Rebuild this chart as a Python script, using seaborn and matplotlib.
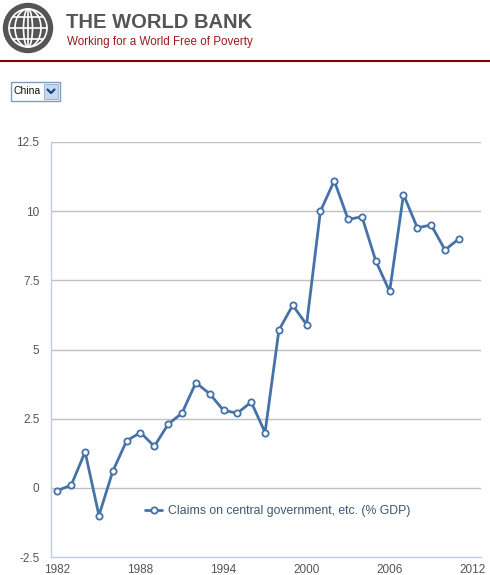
import numpy as np
import pandas as pd
import matplotlib
matplotlib.use("Agg")
import matplotlib.pyplot as plt
import matplotlib.patches as mpatches
import seaborn as sns

sns.set_style("white")
plt.rcParams['font.family'] = ['Liberation Sans', 'DejaVu Sans']

# data (China)
years = list(range(1982, 2012))
claims = [-0.1, 0.1, 1.3, -1.0, 0.6, 1.7, 2.0, 1.5, 2.3, 2.7,
          3.8, 3.4, 2.8, 2.7, 3.1, 2.0, 5.7, 6.6, 5.9, 10.0,
          11.1, 9.7, 9.8, 8.2, 7.1, 10.6, 9.4, 9.5, 8.6, 9.0]
series_name = "Claims on central government, etc. (% GDP)"
y_ticks = [-2.5, 0, 2.5, 5, 7.5, 10, 12.5]
y_labels = ["-2.5", "0", "2.5", "5", "7.5", "10", "12.5"]
x_ticks = [1982, 1988, 1994, 2000, 2006, 2012]

df = pd.DataFrame({"year": years, "value": claims, "series": series_name})

W, H = 490, 575
fig = plt.figure(figsize=(W / 100, H / 100), dpi=100)

# header: logo
lax = fig.add_axes([0, 1 - 56 / H, 56 / W, 56 / H])
lax.set_xlim(0, 56)
lax.set_ylim(56, 0)
lax.set_aspect("equal")
lax.axis("off")
cx, cy = 28, 28
lax.add_patch(mpatches.Circle((cx, cy), 24.5, color="#555555"))
lax.add_patch(mpatches.Circle((cx, cy), 19, fill=False, ec="white", lw=1.2))
for w in [9, 26]:
    lax.add_patch(mpatches.Ellipse((cx, cy), w, 38, fill=False, ec="white", lw=1.2))
lax.plot([cx, cx], [cy - 19, cy + 19], color="white", lw=1.2)
for dy in [-11, 0, 11]:
    half = np.sqrt(19 ** 2 - dy ** 2)
    lax.plot([cx - half, cx + half], [cy + dy, cy + dy], color="white", lw=1.2)

fig.text(66 / W, 1 - 23 / H, "THE WORLD BANK", fontsize=14.5, fontweight="bold",
         color="#555555", va="center", ha="left")
fig.text(67 / W, 1 - 42 / H, "Working for a World Free of Poverty", fontsize=8.4,
         color="#9b1b1b", va="center", ha="left")
fig.add_artist(plt.Line2D([0, 1], [1 - 60.5 / H, 1 - 60.5 / H], color="#8b0000", lw=1.5))

# dropdown
fig.add_artist(mpatches.Rectangle((11 / W, 1 - 101 / H), 49 / W, 19 / H, fill=False,
                                  ec="#7f9db9", lw=1))
fig.add_artist(mpatches.Rectangle((44 / W, 1 - 99 / H), 14 / W, 15 / H, fc="#c7d9f1",
                                  ec="#9fb6d6", lw=0.8))
fig.text(13.5 / W, 1 - 91.5 / H, "China", fontsize=7.5, color="#111111", va="center")
fig.add_artist(plt.Line2D([47.5 / W, 51 / W, 54.5 / W],
                          [1 - 89.5 / H, 1 - 93 / H, 1 - 89.5 / H], color="#1f3f7f", lw=1.6))

# chart
ax = fig.add_axes([50.5 / W, 1 - 557 / H, (481 - 50.5) / W, (557 - 142) / H])
sns.lineplot(data=df, x="year", y="value", hue="series", palette=["#4572A7"], ax=ax,
             marker="o", markersize=4.5, markerfacecolor="white", markeredgecolor="#4572A7",
             markeredgewidth=1.3, linewidth=2, legend=False)

ax.set_ylim(-2.5, 12.5)
ax.set_xlim(1981.5, 2012.6)
ax.set_yticks(y_ticks)
ax.set_yticklabels(y_labels)
ax.set_xticks(x_ticks)
ax.set_xlabel("")
ax.set_ylabel("")
ax.grid(axis="y", color="#c0c0c0", lw=1)
ax.grid(axis="x", visible=False)
ax.set_axisbelow(True)
for s in ["top", "right"]:
    ax.spines[s].set_visible(False)
for s in ["left", "bottom"]:
    ax.spines[s].set_color("#c0d0e0")
    ax.spines[s].set_linewidth(1)
ax.tick_params(axis="y", length=0, pad=8, labelsize=8.5, labelcolor="#555555")
ax.tick_params(axis="x", length=4, color="#c0d0e0", pad=1, labelsize=8.5, labelcolor="#555555")
ax.yaxis.get_gridlines()[0].set_visible(False)

handle = plt.Line2D([], [], color="#4572A7", lw=2, marker="o", markersize=4.5,
                    markerfacecolor="white", markeredgecolor="#4572A7", markeredgewidth=1.3)
fig.legend([handle], [series_name], loc="center", bbox_to_anchor=(278 / W, 1 - 511 / H),
           frameon=False, fontsize=8.8, labelcolor="#3e576f", handlelength=1.4,
           handletextpad=0.5)

fig.savefig("out.png", dpi=100, facecolor="white")
